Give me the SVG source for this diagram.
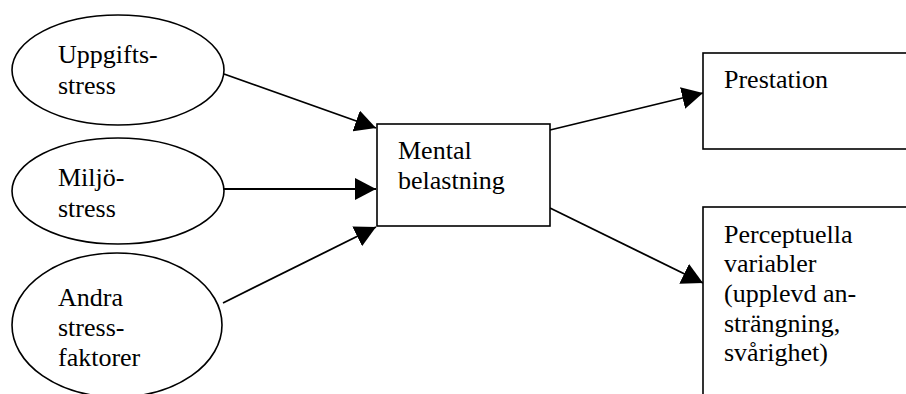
<svg xmlns="http://www.w3.org/2000/svg" width="906" height="394" viewBox="0 0 906 394">
<style>
.shape{fill:#fff;stroke:#000;stroke-width:1.6}
.lbl{font-family:'Liberation Serif','Times New Roman',serif;font-size:26px;fill:#000}
.conn{stroke:#000;stroke-width:1.8;fill:none;marker-end:url(#arr)}
</style>
<defs>
<marker id="arr" markerUnits="userSpaceOnUse" markerWidth="21" markerHeight="22" refX="21" refY="11" orient="auto">
<path d="M0,0 L21,11 L0,22 z" fill="#000"/>
</marker>
</defs>
<rect width="906" height="394" fill="#fff"/>
<g id="connectors">
<line class="conn" x1="224" y1="74" x2="376" y2="128"/>
<line class="conn" x1="224" y1="189" x2="376" y2="189"/>
<line class="conn" x1="223" y1="303" x2="376" y2="227"/>
<line class="conn" x1="550" y1="130" x2="703" y2="93"/>
<line class="conn" x1="550" y1="208" x2="703" y2="283"/>
</g>
<g id="n-uppgifts">
<ellipse class="shape" cx="118" cy="70" rx="106" ry="55"/>
<text class="lbl" x="58" y="63">Uppgifts-</text>
<text class="lbl" x="58" y="94">stress</text>
</g>
<g id="n-miljo">
<ellipse class="shape" cx="118" cy="191" rx="106" ry="53"/>
<text class="lbl" x="58" y="186">Miljö-</text>
<text class="lbl" x="58" y="217">stress</text>
</g>
<g id="n-andra">
<ellipse class="shape" cx="117" cy="325" rx="105" ry="72"/>
<text class="lbl" x="58" y="306">Andra</text>
<text class="lbl" x="58" y="336">stress-</text>
<text class="lbl" x="58" y="366">faktorer</text>
</g>
<g id="n-mental">
<rect class="shape" x="377" y="124" width="173" height="102"/>
<text class="lbl" x="398" y="159">Mental</text>
<text class="lbl" x="398" y="189">belastning</text>
</g>
<g id="n-prestation">
<rect class="shape" x="703" y="53" width="210" height="96"/>
<text class="lbl" x="724" y="88">Prestation</text>
</g>
<g id="n-perceptuella">
<rect class="shape" x="703" y="207" width="210" height="200"/>
<text class="lbl" x="724" y="243">Perceptuella</text>
<text class="lbl" x="724" y="272">variabler</text>
<text class="lbl" x="724" y="302">(upplevd an-</text>
<text class="lbl" x="724" y="332">strängning,</text>
<text class="lbl" x="724" y="361">svårighet)</text>
</g>
</svg>
